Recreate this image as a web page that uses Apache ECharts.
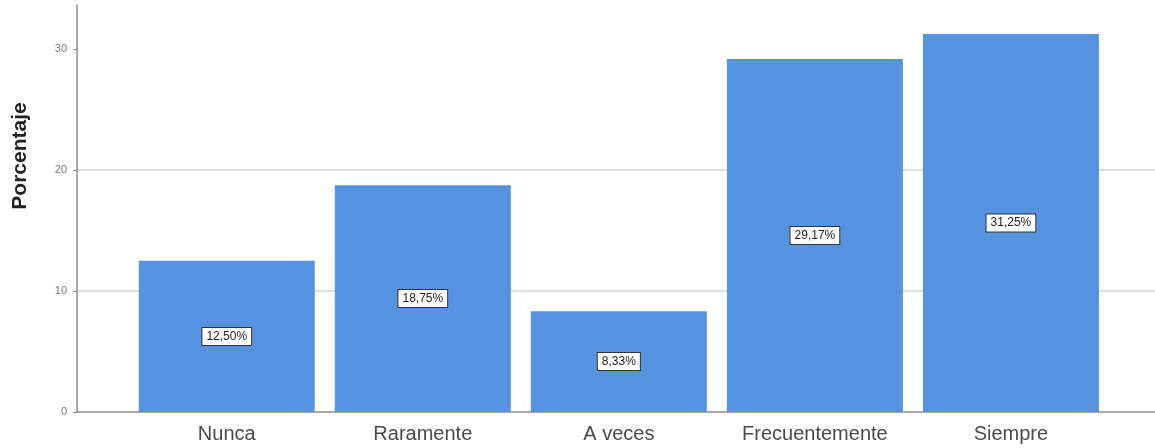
<!DOCTYPE html>
<html>
<head>
<meta charset="utf-8">
<script src="https://cdn.jsdelivr.net/npm/echarts@6/dist/echarts.min.js"></script>
<style>
  html, body { margin: 0; padding: 0; background: #ffffff; }
  #chart { width: 1155px; height: 448px; }
</style>
</head>
<body>
<div id="chart"></div>
<script>
// Response categories and their share of answers (%)
const categories = ['Nunca', 'Raramente', 'A veces', 'Frecuentemente', 'Siempre'];
const percentages = [12.50, 18.75, 8.33, 29.17, 31.25];
const yTicks = [0, 10, 20, 30];
const yAxisTitle = 'Porcentaje';

// Bars sit at x = 1..5 on a numeric axis so the side margins can be set freely
const barData = percentages.map((v, i) => [i + 1, v]);
const catPositions = categories.map((_, i) => i + 1);

const chart = echarts.init(document.getElementById('chart'), null, { renderer: 'canvas' });

chart.setOption({
  backgroundColor: '#ffffff',
  animation: false,
  grid: { left: 77, right: 0, top: 5, bottom: 36, containLabel: false },
  xAxis: {
    type: 'value',
    min: 0.236,
    max: 5.735,
    axisLine: { show: true, lineStyle: { color: '#8c8c8c', width: 1.5 } },
    axisTick: { show: false },
    splitLine: { show: false },
    axisLabel: {
      customValues: catPositions,
      formatter: (v) => categories[Math.round(v) - 1] || '',
      fontFamily: 'Liberation Sans, Arial, sans-serif',
      fontSize: 20,
      color: '#4a4a4a',
      margin: 12
    }
  },
  yAxis: {
    type: 'value',
    min: 0,
    max: 33.64,
    axisLine: { show: true, lineStyle: { color: '#8c8c8c', width: 1.5 } },
    axisTick: {
      show: true,
      length: 4,
      customValues: yTicks,
      lineStyle: { color: '#8c8c8c' }
    },
    splitLine: {
      show: true,
      showMinLine: false,
      showMaxLine: false,
      lineStyle: { color: '#d4d4d4', width: 1.5 }
    },
    axisLabel: {
      customValues: yTicks,
      fontFamily: 'Liberation Sans, Arial, sans-serif',
      fontSize: 11,
      color: '#777777',
      margin: 10
    },
    interval: 10
  },
  graphic: [{
    type: 'text',
    x: 20,
    y: 156,
    rotation: Math.PI / 2,
    style: {
      text: yAxisTitle,
      fontFamily: 'Liberation Sans, Arial, sans-serif',
      fontWeight: 'bold',
      fontSize: 21,
      fill: '#222222',
      align: 'center',
      verticalAlign: 'middle'
    }
  }],
  series: [{
    type: 'bar',
    data: barData,
    barWidth: 176,
    itemStyle: { color: '#5593e0' },
    label: {
      show: true,
      position: 'inside',
      formatter: (p) => p.value[1].toFixed(2).replace('.', ',') + '%',
      fontFamily: 'Liberation Sans, Arial, sans-serif',
      fontSize: 12,
      lineHeight: 13,
      color: '#222222',
      backgroundColor: '#ffffff',
      borderColor: '#333333',
      borderWidth: 1,
      padding: [2, 4]
    }
  }]
});
</script>
</body>
</html>
